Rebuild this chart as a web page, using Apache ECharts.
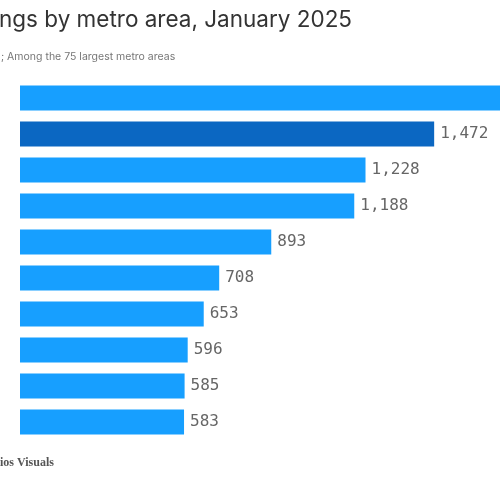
<!DOCTYPE html>
<html>
<head>
<meta charset="utf-8">
<script src="https://cdn.jsdelivr.net/npm/echarts@6/dist/echarts.min.js"></script>
<style>
html,body{margin:0;padding:0;background:#fff;}
#c{width:500px;height:500px;}
</style>
</head>
<body>
<div id="c"></div>
<script>
// Visible (cropped) texts
const titleText = 'ngs by metro area, January 2025';
const subtitleText = '; Among the 75 largest metro areas';
const sourceText = 'ios Visuals';
// Category names are cropped out of the reference picture
const categories = ['Metro 1','Metro 2','Metro 3','Metro 4','Metro 5','Metro 6','Metro 7','Metro 8','Metro 9','Metro 10'];
// First value is off-picture (bar runs past the right edge); estimated
const values = [1800, 1472, 1228, 1188, 893, 708, 653, 596, 585, 583];
const highlightIndex = 1;

const chart = echarts.init(document.getElementById('c'));
chart.setOption({
  animation: false,
  graphic: [
    {type:'text', left:-1, top:9, style:{text:titleText, font:'400 22.5px Inter', fill:'#333'}},
    {type:'text', left:1, top:51, style:{text:subtitleText, font:'400 10.5px Inter', fill:'#777', letterSpacing:-0.2}},
    {type:'text', left:0, top:457, style:{text:sourceText, font:'bold 12px "Liberation Serif"', fill:'#555'}}
  ],
  grid: {left:20, right:0, top:80, height:360, containLabel:false},
  xAxis: {type:'value', min:0, max:1706, show:false},
  yAxis: {type:'category', data:categories, inverse:true, axisLine:{show:false}, axisTick:{show:false}, axisLabel:{show:false}},
  series: [{
    type:'bar',
    barWidth:25,
    data: values.map((v,i)=>({value:v, itemStyle:{color: i===highlightIndex ? '#0b67c2' : '#179fff'}})),
    label:{show:true, position:'right', distance:6, fontFamily:'DejaVu Sans Mono', fontSize:16, color:'#666',
      formatter: p => p.value.toLocaleString('en-US')}
  }]
});
</script>
</body>
</html>
